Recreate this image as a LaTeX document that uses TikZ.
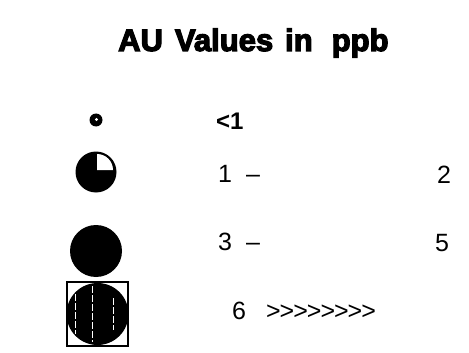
\documentclass[tikz,border=0pt]{standalone}
\usepackage{fontspec}
\setmainfont{Liberation Sans}
\newfontfamily\titlefont{Liberation Sans Bold}[FakeBold=4]
\begin{document}
\begin{tikzpicture}[x=1pt, y=-1pt,
    lbl/.style={anchor=west, inner sep=0, font=\fontsize{25}{25}\selectfont},
    val/.style={inner sep=0, font=\fontsize{25}{25}\selectfont},
    gap/.style={white, line width=0.8, dash pattern=on 7pt off 2pt}]
        \useasboundingbox (0,0) rectangle (469,353);

        % Title
        \node[anchor=base west, inner sep=0, font=\fontsize{31}{31}\selectfont\titlefont] (title) at (118,51)
            {AU\hspace{12pt}Values\hspace{12pt}in\hspace{19pt}ppb};

        % Symbols
        \fill (96,120) circle (6.5);
        \fill[white] (96.5,119.5) circle (1.6);

        \fill (96,172) circle (20.5);
        \fill[white] (97,170) -- (97,154) arc[start angle=-90, end angle=0, radius=16] -- cycle;

        \fill (96,251) circle (26);

        \draw[line width=1.6] (67,282) rectangle (128,346);
        \fill (97.5,314) circle (31);
        \draw[gap] (75,294) -- (75,334);
        \draw[gap] (92,286) -- (92,342);
        \draw[gap] (113,298) -- (113,330);

        % Values
        \node[lbl, font=\fontsize{24}{24}\selectfont\bfseries] (lt1) at (216,121) {<1};
        \node[lbl] (lo2) at (218,174) {1\hspace{14pt}--};
        \node[val] (hi2) at (444,175) {2};
        \node[lbl] (lo5) at (218,242) {3\hspace{14pt}--};
        \node[val] (hi5) at (442,243) {5};
        \node[lbl] (gt6) at (232,311)
            {6\hspace{20pt}>\kern-1pt>\kern-1pt>\kern-1pt>\kern-1pt>\kern-1pt>\kern-1pt>\kern-1pt>};
\end{tikzpicture}
\end{document}
